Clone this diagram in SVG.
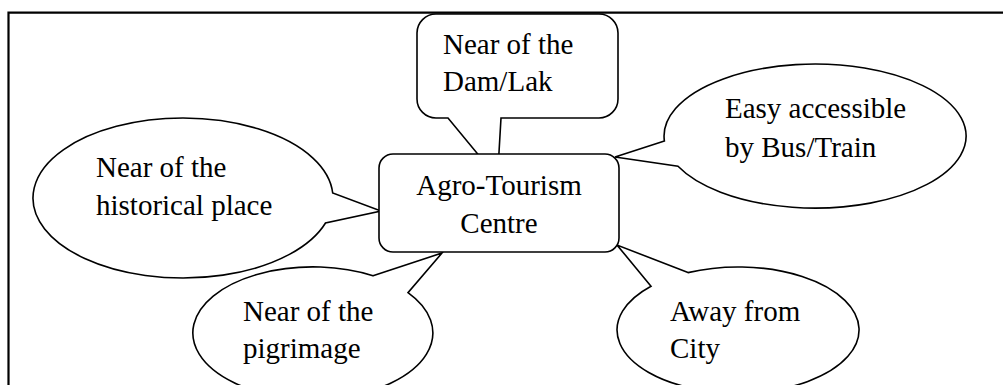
<svg xmlns="http://www.w3.org/2000/svg" width="1003" height="385" viewBox="0 0 1003 385">
  <style>
    .shape { fill: #ffffff; stroke: #000000; stroke-width: 1.6; stroke-linejoin: miter; }
    .frame { fill: none; stroke: #000000; stroke-width: 2.2; }
    .label { font-family: "Liberation Serif", "Times New Roman", serif; font-size: 29px; fill: #000000; }
    .mid { text-anchor: middle; }
  </style>

  <!-- open frame: top and left edges only -->
  <path class="frame" d="M 8.5,385 V 12.7 H 1003"/>

  <!-- callouts: each outline includes its pointer towards the centre box -->
  <g id="dam-lake">
    <path class="shape" d="M 436,14 H 599 A 19 19 0 0 1 618,33 V 99 A 19 19 0 0 1 599,118 H 501 L 497.5,178 L 448,118 H 436 A 19 19 0 0 1 417,99 V 33 A 19 19 0 0 1 436,14 Z"/>
    <text class="label" x="443" y="54">Near of the</text>
    <text class="label" x="443" y="91">Dam/Lak</text>
  </g>

  <g id="historical-place">
    <path class="shape" d="M 332.7,193 A 150 80 0 1 0 325.5,223 L 381,211 Z"/>
    <text class="label" x="96" y="177">Near of the</text>
    <text class="label" x="96" y="215">historical place</text>
  </g>

  <g id="pilgrimage">
    <path class="shape" d="M 373,275.8 L 442,253 L 408,292.7 A 120 66 0 1 1 373,275.8 Z"/>
    <text class="label" x="243" y="321">Near of the</text>
    <text class="label" x="243" y="358">pigrimage</text>
  </g>

  <g id="bus-train">
    <path class="shape" d="M 664.4,141 L 615,157 L 678,166.3 A 151 72 0 1 0 664.4,141 Z"/>
    <text class="label" x="725" y="118">Easy accessible</text>
    <text class="label" x="725" y="157">by Bus/Train</text>
  </g>

  <g id="away-from-city">
    <path class="shape" d="M 688,272.6 L 617,245 L 651,286.2 A 121 63 0 1 0 688,272.6 Z"/>
    <text class="label" x="670" y="321">Away from</text>
    <text class="label" x="670" y="358">City</text>
  </g>

  <!-- central node drawn last so pointer tips tuck under it -->
  <g id="agro-tourism-centre">
    <rect class="shape" x="379" y="154" width="240" height="98" rx="14" ry="14"/>
    <text class="label mid" x="499" y="195">Agro-Tourism</text>
    <text class="label mid" x="499" y="233">Centre</text>
  </g>
</svg>
